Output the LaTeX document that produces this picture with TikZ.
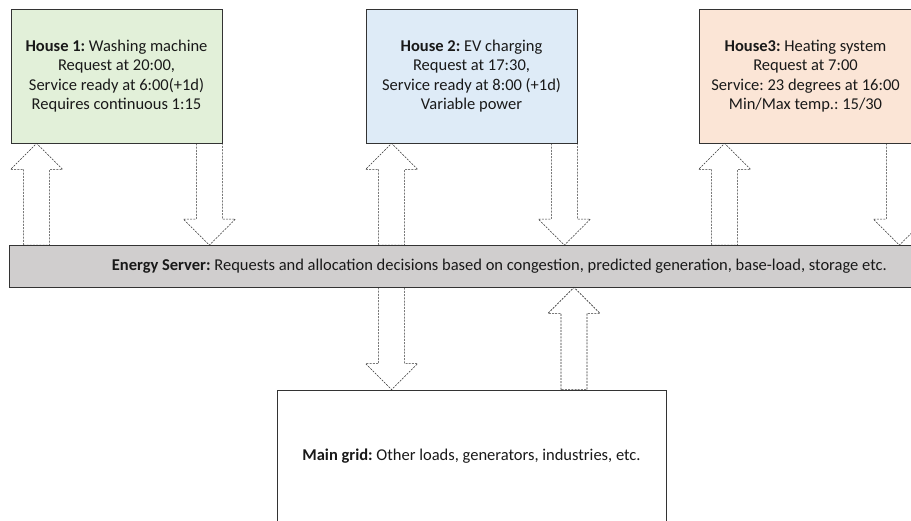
\documentclass[tikz,border=0pt]{standalone}
\usepackage{fontspec}
\setmainfont{Carlito}
\usetikzlibrary{calc}
\definecolor{hgreen}{HTML}{E2F0D9}
\definecolor{hblue}{HTML}{DEEBF7}
\definecolor{horange}{HTML}{FBE5D6}
\definecolor{sgray}{HTML}{D0CECE}
\tikzset{
  box/.style={draw=black!80, line width=0.8pt, rectangle, align=center, inner sep=0pt,
    font=\fontsize{16.5}{19.3}\selectfont\frenchspacing, text=black!90},
  barrow/.style={draw=black!80, line width=0.6pt, dash pattern=on 2pt off 1.2pt},
}
\newcommand\blockarr[3]{%
  \draw[barrow] ($(#1)+(-13,0)$) -- ($(#2)+(-13,#3*26)$) -- ($(#2)+(-26,#3*26)$) -- (#2)
    -- ($(#2)+(26,#3*26)$) -- ($(#2)+(13,#3*26)$) -- ($(#1)+(13,0)$) -- cycle;}
\begin{document}
\begin{tikzpicture}[x=1pt,y=-1pt]
\useasboundingbox (0,0) rectangle (911,521);
\clip (0,0) rectangle (911,521);
\fill[white] (0,0) rectangle (911,521);
\node[box, fill=hgreen, minimum width=211, minimum height=134] (h1) at (116.5,76)
  {\textbf{House 1:} Washing machine\\Request at 20:00,\\Service ready at 6:00(+1d)\\Requires continuous 1:15};
\node[box, fill=hblue, minimum width=211, minimum height=134] (h2) at (471.5,76)
  {\textbf{House 2:} EV charging\\Request at 17:30,\\Service ready at 8:00 (+1d)\\Variable power};
\node[box, fill=horange, minimum width=213, minimum height=134] (h3) at (805.5,76)
  {\textbf{House3:} Heating system\\Request at 7:00\\Service: 23 degrees at 16:00\\Min/Max temp.: 15/30};
\node[box, fill=sgray, minimum width=979.3, minimum height=41.5] (srv) at (499.35,266.25)
  {\textbf{Energy Server:} Requests and allocation decisions based on congestion, predicted generation, base-load, storage etc.};
\node[box, fill=white, minimum width=389, minimum height=132] (grid) at (471.5,456)
  {\textbf{Main grid:} Other loads, generators, industries, etc.};
% house -> server / server -> house
\coordinate (u1tip) at ($(h1.south west)+(26,0)$);
\coordinate (u1tail) at (u1tip |- srv.north);
\coordinate (d1tail) at ($(h1.south east)+(-13,0)$);
\coordinate (d1tip) at (d1tail |- srv.north);
\coordinate (u2tip) at ($(h2.south west)+(26,0)$);
\coordinate (u2tail) at (u2tip |- srv.north);
\coordinate (d2tail) at ($(h2.south east)+(-13,0)$);
\coordinate (d2tip) at (d2tail |- srv.north);
\coordinate (u3tip) at ($(h3.south west)+(26,0)$);
\coordinate (u3tail) at (u3tip |- srv.north);
\coordinate (d3tail) at ($(h3.south east)+(-13,0)$);
\coordinate (d3tip) at (d3tail |- srv.north);
\coordinate (gdtail) at (u2tip |- srv.south);
\coordinate (gdtip) at (u2tip |- grid.north);
\coordinate (gutip) at (574,0 |- srv.south);
\coordinate (gutail) at (gutip |- grid.north);
\blockarr{u1tail}{u1tip}{1}
\blockarr{d1tail}{d1tip}{-1}
\blockarr{u2tail}{u2tip}{1}
\blockarr{d2tail}{d2tip}{-1}
\blockarr{u3tail}{u3tip}{1}
\blockarr{d3tail}{d3tip}{-1}
\blockarr{gdtail}{gdtip}{-1}
\blockarr{gutail}{gutip}{1}
\end{tikzpicture}
\end{document}
